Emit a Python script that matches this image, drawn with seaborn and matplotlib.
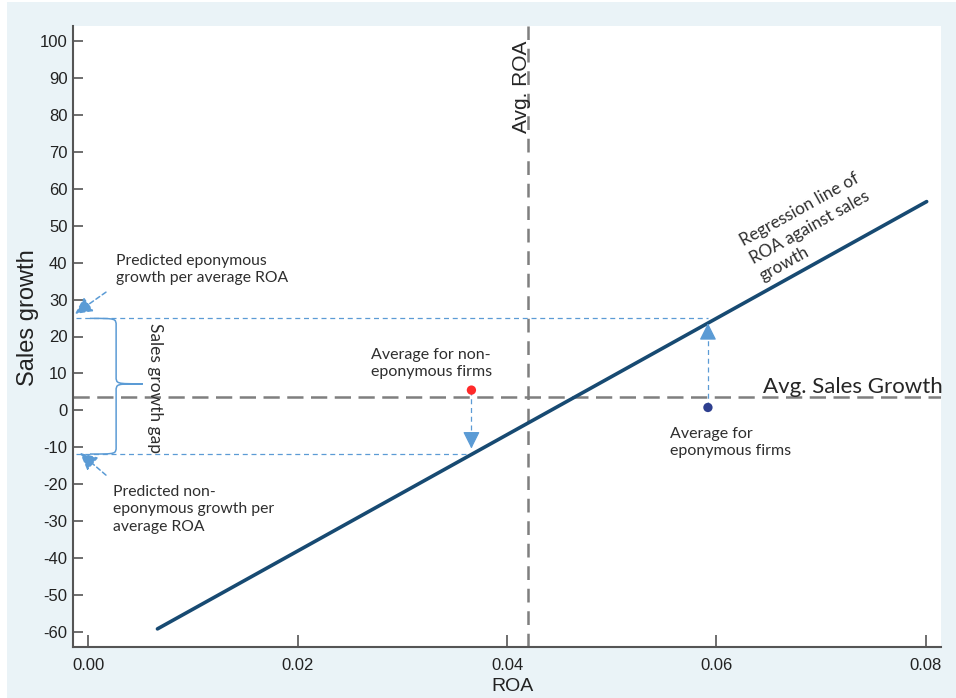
import numpy as np
import pandas as pd
import matplotlib
matplotlib.use("Agg")
import matplotlib.pyplot as plt
from matplotlib.path import Path
from matplotlib.patches import PathPatch, Rectangle
import seaborn as sns

# Data
roa_line = [0.0066, 0.0801]          # regression line ends (ROA)
growth_line = [-59.1, 56.5]          # regression line ends (sales growth)
avg_roa = 0.042
avg_growth = 3.6
nonepo_point = (0.0366, 5.5)         # average for non-eponymous firms
epo_point = (0.0592, 0.8)            # average for eponymous firms
pred_epo = 24.9                      # predicted eponymous growth per avg ROA
pred_nonepo = -11.8                  # predicted non-eponymous growth per avg ROA
y_ticks = list(range(-60, 101, 10))
x_ticks = [0.00, 0.02, 0.04, 0.06, 0.08]

sns.set_theme(style="white")
plt.rcParams["font.family"] = ["Liberation Sans", "DejaVu Sans"]
plt.rcParams["axes.unicode_minus"] = False
note_font = ["Lato", "DejaVu Sans"]
note_col = "#2e2e2e"
blue = "#5b9bd5"
gray = "#7f7f7f"

fig = plt.figure(figsize=(9.56, 6.98), dpi=100)
fig.patch.set_facecolor("white")
fig.patches.append(Rectangle((7 / 956, 0), 1, (698 - 2) / 698, transform=fig.transFigure,
                             facecolor="#eaf3f7", edgecolor="none", zorder=-10))
ax = fig.add_axes([73 / 956, 51 / 698, 868 / 956, 621 / 698])
ax.set_facecolor("white")

# reference lines
ax.axvline(avg_roa, color=gray, lw=1.8, ls=(0, (5.5, 3.5)), zorder=2)
ax.axhline(avg_growth, color=gray, lw=1.8, ls=(0, (6.5, 3)), zorder=2)

# regression line
reg = pd.DataFrame({"roa": roa_line, "growth": growth_line})
sns.lineplot(data=reg, x="roa", y="growth", color="#174a72", lw=2.6, ax=ax, zorder=4)

# predicted levels at the regression line
x_left = -0.0012
ax.plot([x_left, epo_point[0]], [pred_epo, pred_epo], color=blue, lw=0.9, ls=(0, (4, 3)), zorder=3)
ax.plot([x_left, nonepo_point[0]], [pred_nonepo, pred_nonepo], color=blue, lw=0.9, ls=(0, (4, 3)), zorder=3)

# vertical arrows from averages to predictions
head = dict(arrowstyle="-|>", color=blue, lw=0.9, mutation_scale=26, shrinkA=0, shrinkB=0)
ax.plot([nonepo_point[0]] * 2, [nonepo_point[1], pred_nonepo + 2], color=blue, lw=0.9, ls=(0, (4, 3)), zorder=3)
ax.annotate("", xy=(nonepo_point[0], pred_nonepo + 1.5), xytext=(nonepo_point[0], pred_nonepo + 3),
            arrowprops=head, zorder=5)
ax.plot([epo_point[0]] * 2, [epo_point[1], pred_epo - 2], color=blue, lw=0.9, ls=(0, (4, 3)), zorder=3)
ax.annotate("", xy=(epo_point[0], pred_epo - 1.3), xytext=(epo_point[0], pred_epo - 3),
            arrowprops=head, zorder=5)

pts = pd.DataFrame({"roa": [nonepo_point[0], epo_point[0]],
                    "growth": [nonepo_point[1], epo_point[1]],
                    "group": ["non", "epo"]})
sns.scatterplot(data=pts, x="roa", y="growth", hue="group", palette={"non": "#ff2a2a", "epo": "#2e3f8f"},
                s=45, edgecolor="none", legend=False, ax=ax, zorder=6)

# curly brace for the gap
xe, xm, xt, r = 0.00015, 0.00265, 0.0052, 2.0
mid = 7.2
verts = [(xe, pred_epo), (xm, pred_epo), (xm, pred_epo), (xm, pred_epo - r),
         (xm, mid + r),
         (xm, mid), (xm, mid), (xt, mid),
         (xm, mid), (xm, mid), (xm, mid - r),
         (xm, pred_nonepo + r),
         (xm, pred_nonepo), (xm, pred_nonepo), (xe, pred_nonepo)]
codes = [Path.MOVETO, Path.CURVE4, Path.CURVE4, Path.CURVE4, Path.LINETO,
         Path.CURVE4, Path.CURVE4, Path.CURVE4,
         Path.CURVE4, Path.CURVE4, Path.CURVE4, Path.LINETO,
         Path.CURVE4, Path.CURVE4, Path.CURVE4]
ax.add_patch(PathPatch(Path(verts, codes), facecolor="none", edgecolor=blue, lw=1.1, zorder=3))
ax.text(0.0064, 6.1, "Sales growth gap", rotation=-90, ha="center", va="center",
        fontsize=12.5, family=note_font, color=note_col)

# side annotations with arrows
side_arrow = dict(arrowstyle="-|>", color=blue, lw=1.1, ls=(0, (3, 2)), mutation_scale=26, shrinkA=0, shrinkB=0)
ax.annotate("", xy=(-0.00128, 26.1), xytext=(0.00168, 32.0), arrowprops=side_arrow, zorder=5)
ax.annotate("", xy=(-0.0008, -11.5), xytext=(0.00168, -17.5), arrowprops=side_arrow, zorder=5)
ax.text(0.00265, 42.3, "Predicted eponymous\ngrowth per average ROA", ha="left", va="top",
        fontsize=11.3, family=note_font, color=note_col, linespacing=1.3)
ax.text(0.00236, -20.2, "Predicted non-\neponymous growth per\naverage ROA", ha="left", va="top",
        fontsize=11.3, family=note_font, color=note_col, linespacing=1.3)
ax.text(0.0270, 16.9, "Average for non-\neponymous firms", ha="left", va="top",
        fontsize=11.5, family=note_font, color=note_col, linespacing=1.3)
ax.text(0.05556, -4.5, "Average for\neponymous firms", ha="left", va="top",
        fontsize=11.5, family=note_font, color=note_col, linespacing=1.3)
ax.text(0.06427, 35.8, "Regression line of\nROA against sales\ngrowth", rotation=29, rotation_mode="anchor",
        ha="left", va="baseline", multialignment="left", fontsize=12.3, family=note_font,
        color=note_col, linespacing=1.3)
ax.text(0.06445, 4.6, "Avg. Sales Growth", ha="left", va="baseline",
        fontsize=16, family=note_font, color="#262626")
ax.text(0.0423, 87.5, "Avg. ROA", rotation=90, ha="right", va="center", fontsize=15, color="#262626")

# axes styling
ax.set_xlim(-0.00147, 0.08147)
ax.set_ylim(-64, 104)
ax.set_xticks(x_ticks)
ax.set_xticklabels([f"{t:.2f}" for t in x_ticks])
ax.set_yticks(y_ticks)
ax.set_yticklabels([str(t) for t in y_ticks])
ax.tick_params(axis="x", direction="in", length=9, width=1.2, color="#555555", pad=8, labelsize=12,
               labelcolor="#222222", bottom=True)
ax.tick_params(axis="y", direction="in", length=7, width=1.2, color="#555555", pad=4, labelsize=12,
               labelcolor="#222222", left=True)
for side in ["top", "right"]:
    ax.spines[side].set_visible(False)
for side in ["left", "bottom"]:
    ax.spines[side].set_color("#555555")
    ax.spines[side].set_linewidth(1.5)
ax.set_xlabel("ROA", fontsize=14, color="#222222")
ax.set_ylabel("Sales growth", fontsize=17, color="#222222")
ax.xaxis.set_label_coords(0.506, -0.05)
ax.yaxis.set_label_coords(-0.039, 0.531)

fig.savefig("out.png", dpi=100, facecolor=fig.get_facecolor())
